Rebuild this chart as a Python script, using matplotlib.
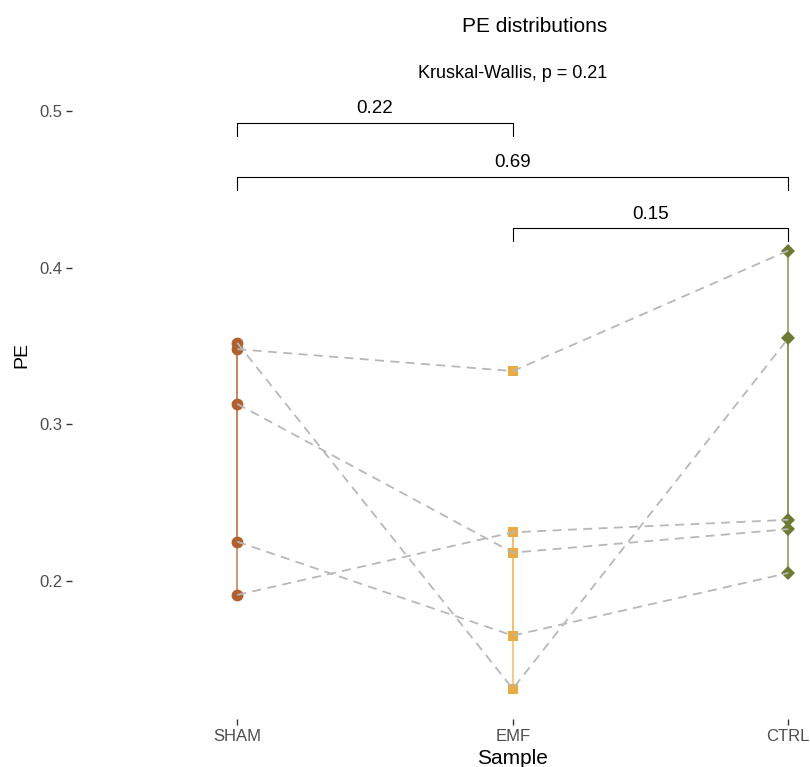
import numpy as np
import matplotlib
matplotlib.use("Agg")
import matplotlib.pyplot as plt

plt.rcParams['font.family'] = ['Liberation Sans', 'DejaVu Sans']

# data
groups = ['SHAM', 'EMF', 'CTRL']
sham = [0.348, 0.352, 0.313, 0.191, 0.225]
emf = [0.334, 0.131, 0.218, 0.231, 0.165]
ctrl = [0.411, 0.355, 0.233, 0.239, 0.205]
colors = ['#B0602E', '#E9AC45', '#6C7A34']
markers = ['o', 's', 'D']

# pairwise comparisons: (group a, group b, p label, bracket height)
pairs = [(0, 1, '0.22', 0.4926), (0, 2, '0.69', 0.4583), (1, 2, '0.15', 0.4254)]
kw_label = 'Kruskal-Wallis, p = 0.21'
kw_y = 0.524


def main():
    fig = plt.figure(figsize=(8.1, 7.67), dpi=100)
    ax = fig.add_axes([72 / 810, 48 / 767, 881.6 / 810, 675 / 767])

    values = [sham, emf, ctrl]
    xs = np.arange(len(groups))

    # zero-width boxplots (whiskers only)
    for i, v in enumerate(values):
        ax.boxplot([v], positions=[i], widths=0, showfliers=False,
                   whiskerprops=dict(color=colors[i], lw=1.2, alpha=0.75),
                   boxprops=dict(color=colors[i], lw=1.2, alpha=0.75),
                   medianprops=dict(color=colors[i], lw=0, alpha=0),
                   capprops=dict(lw=0), manage_ticks=False, zorder=1)

    # points
    for i, v in enumerate(values):
        ms = {'o': 8.5, 's': 7, 'D': 7}[markers[i]]
        ax.plot([i] * len(v), v, linestyle='none', marker=markers[i], ms=ms,
                color=colors[i], markeredgewidth=0, zorder=2)

    # paired dashed lines
    for k in range(len(sham)):
        ax.plot(xs, [sham[k], emf[k], ctrl[k]], color='#B8B8B8', lw=1.3,
                dashes=(5, 3.5), zorder=3)

    # brackets
    tip = 0.0085
    for a, b, lab, y in pairs:
        ax.plot([a, a, b, b], [y - tip, y, y, y - tip], color='black', lw=0.8, zorder=4)
        ax.text((a + b) / 2, y + 0.0035, lab, ha='center', va='bottom', fontsize=13.5)

    ax.text(1, kw_y, kw_label, ha='center', va='center', fontsize=13)

    ax.set_xlim(-0.6, 2.6)
    ax.set_ylim(0.1117, 0.543)
    ax.set_xticks(xs)
    ax.set_xticklabels(groups)
    ax.set_yticks([0.2, 0.3, 0.4, 0.5])
    ax.set_yticklabels(['0.2', '0.3', '0.4', '0.5'])
    ax.tick_params(axis='both', length=4, width=1, color='#333333',
                   labelcolor='#4D4D4D', labelsize=12, pad=3)
    for s in ax.spines.values():
        s.set_visible(False)

    ax.set_xlabel('Sample', fontsize=15, labelpad=4)
    fig.text(22 / 810, 1 - 355 / 767, 'PE', rotation=90, ha='center', va='center', fontsize=14)
    fig.text(535 / 810, 1 - 26 / 767, 'PE distributions', ha='center', va='center', fontsize=15)

    fig.savefig('out.png', dpi=100)


main()
